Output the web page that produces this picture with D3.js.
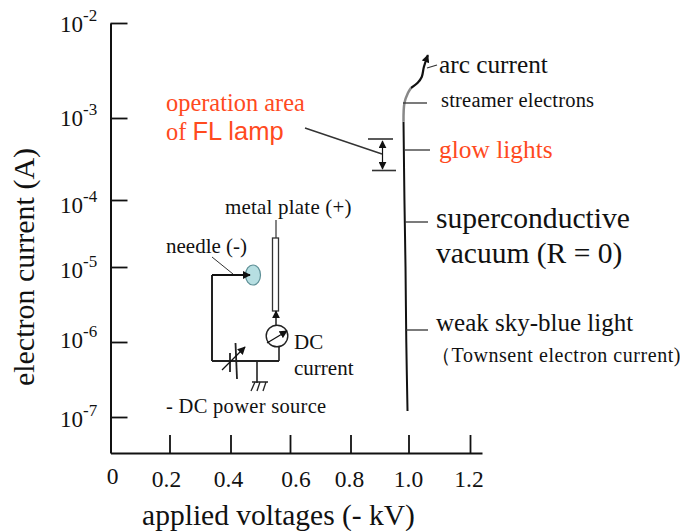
<!DOCTYPE html>
<html><head><meta charset="utf-8">
<script src="https://cdn.jsdelivr.net/npm/d3@7"></script>
<style>
html,body{margin:0;padding:0;background:#fff}
svg{display:block}
text{font-family:"Liberation Serif",serif;fill:#111}
</style></head><body><svg id="c" width="680" height="531"></svg>
<script>
const xTicks=[0,0.2,0.4,0.6,0.8,1.0,1.2];
const xTickLabels=["0","0.2","0.4","0.6","0.8","1.0","1.2"];
const yTicks=[1e-7,1e-6,1e-5,1e-4,1e-3,1e-2];
const yExponents=["-7","-6","-5","-4","-3","-2"];
const curveVoltage=[0.9966,0.9924,0.9897,0.986,0.9828,0.986,0.998,1.008];
const curveCurrent=[1.2e-7,1e-6,1e-5,1e-4,9e-4,1.44e-3,1.83e-3,2.07e-3];
const arcVoltage=[1.008,1.03,1.043,1.05,1.063];
const arcCurrent=[2.07e-3,2.35e-3,2.7e-3,3.44e-3,4.6e-3];

const svg=d3.select("#c");
const x=d3.scaleLinear().domain([0,0.2,0.4,0.6,0.8,1.0,1.2,1.24]).range([110.5,169.5,230.5,290,350.5,408.5,470,482]);
const y=d3.scaleLog().domain([3.3e-8,1e-7,1e-6,1e-5,1e-4,1e-3,1e-2]).range([453,417,342,267,200,118,23]);
const ink="#111", red="#ff4a1e";

const defs=svg.append("defs");
defs.append("marker").attr("id","ah").attr("viewBox","0 0 10 10").attr("refX",9).attr("refY",5)
 .attr("markerWidth",8).attr("markerHeight",8).attr("markerUnits","userSpaceOnUse").attr("orient","auto-start-reverse")
 .append("path").attr("d","M0,0L10,5L0,10Z").attr("fill",ink);

// axes
const gx=svg.append("g").attr("transform","translate(0,453)")
 .call(d3.axisTop(x).tickValues(xTicks.slice(1)).tickSize(18).tickFormat("").tickSizeOuter(0));
gx.select(".domain").attr("stroke",ink).attr("stroke-width",2);
gx.selectAll(".tick line").attr("stroke",ink).attr("stroke-width",1.8);
const gy=svg.append("g").attr("transform","translate(110.5,0)")
 .call(d3.axisRight(y).tickValues(yTicks).tickSize(17).tickFormat("").tickSizeOuter(0));
gy.select(".domain").attr("stroke",ink).attr("stroke-width",2);
gy.selectAll(".tick line").attr("stroke",ink).attr("stroke-width",1.8);

// tick labels
const xNudge=[2,-3,-2,6,-1,0,-1];
svg.selectAll("text.xl").data(xTicks).join("text").attr("class","xl")
 .attr("x",(d,i)=>x(d)+xNudge[i]).attr("y",(d,i)=>i?487:484).attr("text-anchor","middle")
 .attr("font-size",23.5).text((d,i)=>xTickLabels[i]);
const yNudge=[10,6,11,13,8,9];
yTicks.forEach((d,i)=>{
 const t=svg.append("text").attr("x",60).attr("y",y(d)+yNudge[i]).attr("font-size",23).text("10");
 t.append("tspan").attr("dy",-11).attr("font-size",17).text(yExponents[i]);
});

// axis titles
svg.append("text").attr("x",278.5).attr("y",525).attr("text-anchor","middle").attr("font-size",29.5).text("applied voltages (- kV)");
svg.append("text").attr("transform","translate(34,267) rotate(-90)").attr("text-anchor","middle").attr("font-size",30).text("electron current (A)");

// curve
const line=d3.line().curve(d3.curveCatmullRom);
const pts=curveVoltage.map((v,i)=>[x(v),y(curveCurrent[i])]);
svg.append("path").attr("d",line(pts.slice(0,5))).attr("fill","none").attr("stroke",ink).attr("stroke-width",2);
svg.append("path").attr("d",line(pts.slice(4))).attr("fill","none").attr("stroke","#888").attr("stroke-width",2.5);
svg.append("path").attr("d",line(arcVoltage.map((v,i)=>[x(v),y(arcCurrent[i])]))).attr("fill","none")
 .attr("stroke",ink).attr("stroke-width",2.2).attr("marker-end","url(#ah)");

// helpers for annotation drawing
const seg=(a,b,c,d,w=1.3,col="#333",extra)=>{const l=svg.append("line").attr("x1",a).attr("y1",b).attr("x2",c).attr("y2",d).attr("stroke",col).attr("stroke-width",w);if(extra)l.attr("marker-end",extra);return l;};
const txt=(s,a,b,fs,col=ink,fam)=>{const t=svg.append("text").attr("x",a).attr("y",b).attr("font-size",fs).text(s);t.style("fill",col);if(fam)t.style("font-family",fam);return t;};

// leaders
seg(427,68,437,65);seg(403,103,427,103);seg(405,150,430,150);seg(405,222,428,222);seg(405,330,428,330);
// operation bracket
seg(368,139,393,139,1.6);seg(372,170.5,396,170.5,1.6);
seg(382.5,154,382.5,141,1.2,ink,"url(#ah)");seg(382.5,154,382.5,169,1.2,ink,"url(#ah)");
seg(305,128,382,154,1.4);

// labels
txt("arc current",439,73,25.3);
txt("streamer electrons",441,107,20.5).style("letter-spacing","0.2px");
txt("glow lights",439,158,25.4,red);
txt("superconductive",436,228,29.6);
txt("vacuum (R = 0)",436,263,29.5);
txt("weak sky-blue light",436,331,25);
txt("（Townsent electron current)",431,362,20).style("letter-spacing","0.55px");
txt("operation area",166,111,24.4,red);
const fl=txt("of ",166,140,24.4,red);
fl.append("tspan").style("font-family",'"Liberation Sans",sans-serif').attr("font-size",25.5).style("fill",red).text("FL lamp");

// circuit inset
seg(212,275,212,361,2,"#222");seg(212,361,279,361,2,"#222");seg(279,361,279,347,1.6,"#222");
svg.append("ellipse").attr("cx",253).attr("cy",275).attr("rx",7.5).attr("ry",10).attr("fill","#b7dfe2").attr("stroke","#5d8f96").attr("stroke-width",1.2);
seg(212,275,250,275,2,ink,"url(#ah)");
seg(212,257,233,274,1,"#333");
seg(276,220,276,238,1.2);
svg.append("rect").attr("x",272.5).attr("y",238).attr("width",6).attr("height",73).attr("fill","#fff").attr("stroke","#333").attr("stroke-width",1.3);
seg(276,325,276,311,1.4,ink,"url(#ah)");
svg.append("circle").attr("cx",277).attr("cy",336).attr("r",10.8).attr("fill","#fff").attr("stroke","#222").attr("stroke-width",1.4);
seg(267,343,287,331,1.3,ink,"url(#ah)");
seg(235.5,343,237,379,1.8,"#222");seg(230,353,230,372,1.8,"#222");
seg(222,370,245,347,1.3,ink,"url(#ah)");
seg(257,361,257,383,1.6,"#222");
seg(252,382,268,382,1.5,"#222");seg(255,382,251,391,1.3,"#222");seg(260,382,257,391,1.3,"#222");seg(266,382,263,391,1.3,"#222");

txt("metal plate (+)",225,214,21).style("letter-spacing","0.2px");
txt("needle (-)",166,253,21);
txt("DC",294,349,21);
txt("current",294,375,21);
txt("- DC power source",166,413,20.5).style("letter-spacing","0.3px");
</script></body></html>
